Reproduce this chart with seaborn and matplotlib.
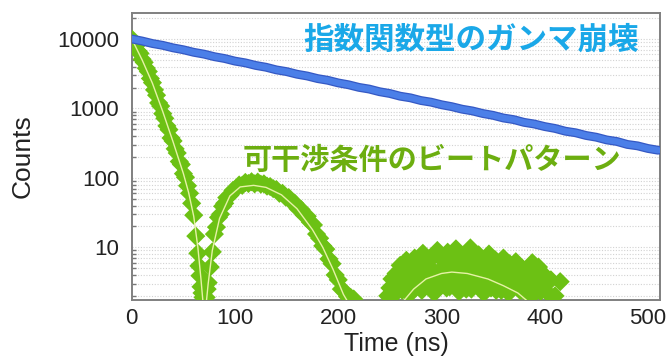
import matplotlib
import numpy as np
import pandas as pd

matplotlib.use("Agg")

import matplotlib.pyplot as plt
import matplotlib.patheffects as pe
from matplotlib.ticker import LogLocator, NullFormatter
import seaborn as sns

# exponential gamma decay (blue band), every 10 ns
blue_t = list(range(0, 520, 10))
blue_counts = [
    10000, 9350, 8600, 8100, 7450, 6990, 6430, 6050, 5560, 5230,
    4800, 4530, 4160, 3920, 3590, 3390, 3110, 2930, 2690, 2540,
    2330, 2190, 2010, 1900, 1740, 1640, 1500, 1420, 1300, 1230,
    1130, 1060, 975, 920, 845, 795, 728, 690, 630, 596,
    548, 515, 470, 446, 408, 385, 352, 334, 303, 289,
    265, 250,
]

# beat pattern data points (green diamonds)
green_t = [
    0, 2, 4, 6, 8, 10, 12, 14, 16, 18, 20, 22, 24, 26, 28, 30, 32, 34, 36, 38,
    40, 42, 44, 46, 48, 50, 52, 54, 56, 58, 60, 62, 64, 65, 66, 67, 68, 69,
    72, 73, 74, 76, 78, 80, 82, 84, 86, 88, 90, 92, 95, 98, 101, 104, 107, 110,
    113, 116, 119, 122, 125, 128, 131, 134, 137, 140, 143, 146, 149, 152, 155,
    158, 161, 164, 167, 170, 173, 176, 179, 182, 185, 188, 191, 194, 197, 200,
    203, 206, 209, 212, 215,
    248, 250, 252, 254, 256, 258, 260, 262, 264, 266, 268, 270, 272, 274, 276,
    278, 280, 282, 284, 286, 288, 290, 292, 294, 296, 298, 300, 302, 304, 306,
    308, 310, 312, 314, 316, 318, 320, 322, 324, 326, 328, 330, 332, 334, 336,
    338, 340, 342, 344, 346, 348, 350, 352, 354, 356, 358, 360, 362, 364, 366,
    368, 370, 372, 374, 376, 378, 380, 382, 384, 386, 388, 390, 392, 394, 396,
    398, 400, 403, 406, 410, 415,
    251, 257, 263, 269, 275, 281, 287, 293, 299, 305, 311, 317, 323, 329, 335,
    341, 347, 353, 359, 365, 371, 377, 383, 389, 395,
]
green_counts = [
    10000, 8800, 8000, 6700, 6200, 5100, 4600, 3800, 3400, 2700, 2350, 1850,
    1550, 1200, 1080, 840, 720, 560, 495, 375, 340, 262, 228, 172, 156, 115,
    102, 77, 60, 43, 29, 14.5, 8.2, 5.4, 3.9, 2.7, 2.2, 1.9,
    1.9, 2.5, 3.1, 5.2, 8.6, 15.5, 19.5, 27, 30, 39, 43, 52, 56, 66, 70, 79,
    78, 86, 83, 88, 82, 87, 81, 82, 76, 75, 70, 68, 60, 60, 53, 52, 45, 43,
    36, 35, 29, 28, 23, 21, 15.5, 13.5, 10.5, 9.4, 6.8, 5.8, 4.0, 3.4, 2.5,
    2.3, 1.95, 1.9, 1.8,
    2.0, 2.6, 3.5, 2.2, 4.2, 3.0, 5.5, 2.4, 4.8, 6.5, 3.3, 5.2, 2.6, 7.0, 4.0,
    5.8, 3.0, 8.2, 4.5, 6.2, 2.8, 5.0, 7.5, 3.6, 9.0, 4.4, 6.8, 3.2, 5.5, 8.5,
    2.7, 6.0, 4.0, 9.5, 5.0, 3.1, 7.2, 4.6, 2.5, 6.4, 9.8, 3.8, 5.6, 2.9, 7.8,
    4.2, 6.0, 3.0, 5.2, 8.0, 2.6, 4.8, 6.6, 3.4, 5.4, 2.4, 7.0, 4.0, 3.0, 5.8,
    2.5, 4.4, 6.2, 3.2, 2.4, 5.0, 3.6, 2.2, 4.6, 3.0, 6.0, 2.6, 3.8, 5.2, 2.3,
    4.2, 3.0, 2.2, 3.4, 2.0, 3.2,
    1.9, 2.3, 3.0, 2.1, 3.6, 2.4, 3.8, 2.2, 3.2, 2.6, 4.0, 2.3, 3.4, 2.5, 3.9,
    2.2, 3.5, 2.4, 3.0, 2.2, 3.3, 2.4, 2.9, 2.1, 2.6,
]

# thin fitted curve through the beat pattern
fit_t = [0, 10, 20, 30, 40, 50, 55, 60, 64, 67, 69, 70.5,
         72, 74, 78, 85, 95, 105, 118, 130, 145, 160, 175, 185, 195, 205, 212, 216,
         240, 262, 273, 285, 300, 310, 325, 345, 360, 374, 385, 395]
fit_counts = [10000, 5000, 2300, 900, 330, 115, 62, 28, 10, 3.5, 1.6, 0.5,
              1.5, 3.0, 9, 26, 55, 74, 78, 73, 57, 36, 18, 10, 4.8, 2.1, 1.4, 0.5,
              0.5, 1.6, 2.5, 3.5, 4.2, 4.4, 4.2, 3.5, 2.8, 2.2, 1.6, 0.5]

ytick_vals = [10, 100, 1000, 10000]
ytick_labels = ["10", "100", "1000", "10000"]
xtick_vals = [0, 100, 200, 300, 400, 500]

title_blue = "指数関数型のガンマ崩壊"
title_green = "可干渉条件のビートパターン"


def main() -> None:
    sns.set_theme(style="white")
    plt.rcParams["font.family"] = ["Liberation Sans", "Noto Sans CJK JP", "DejaVu Sans"]

    fig = plt.figure(figsize=(6.69, 3.6), dpi=100)
    ax = fig.add_axes([0.197, 0.167, 0.79, 0.797])
    ax.set_yscale("log")

    # light dotted grid at every log step
    ax.yaxis.set_minor_locator(LogLocator(base=10, subs=np.arange(2, 10)))
    ax.yaxis.set_minor_formatter(NullFormatter())
    ax.grid(True, axis="y", which="both", linestyle=(0, (1, 1.5)),
            color="#d2d2d2", linewidth=0.8)
    ax.grid(False, axis="x")

    sns.scatterplot(x=green_t, y=green_counts, marker="D", s=95, color="#6cc114",
                    edgecolor="none", linewidth=0, ax=ax, zorder=3)
    sns.lineplot(x=fit_t, y=fit_counts, color="#e6f2a6", linewidth=1.0,
                 ax=ax, zorder=4, sort=False)

    line = sns.lineplot(x=blue_t, y=blue_counts, color="#4b7fe8", linewidth=4.6,
                        ax=ax, zorder=5)
    line.lines[-1].set_path_effects([pe.Stroke(linewidth=6.4, foreground="#3559c4"),
                                     pe.Normal()])

    ax.set_xlim(0, 512)
    ax.set_ylim(1.75, 23700)
    ax.set_xticks(xtick_vals)
    ax.set_yticks(ytick_vals)
    ax.set_yticklabels(ytick_labels)
    ax.tick_params(axis="both", which="major", direction="in", length=5,
                   color="#777777", labelsize=16, labelcolor="#222222")
    ax.tick_params(axis="y", which="major", pad=9)
    ax.tick_params(axis="x", which="major", pad=6)
    ax.tick_params(axis="y", which="minor", direction="in", length=3,
                   color="#777777", left=True)

    for side in ax.spines.values():
        side.set_color("#808080")
        side.set_linewidth(1.4)

    ax.set_xlabel("Time (ns)", fontsize=18, color="#222222", labelpad=2)
    ax.set_ylabel("Counts", fontsize=19, color="#222222", labelpad=16)

    fig.text(0.453, 0.889, title_blue, color="#1aa8e8", fontsize=22,
             fontweight="bold", family=["Noto Sans CJK JP"], va="center", ha="left")
    fig.text(0.363, 0.556, title_green, color="#6cae10", fontsize=21,
             fontweight="bold", family=["Noto Sans CJK JP"], va="center", ha="left")

    fig.savefig("out.png", dpi=100)
    plt.close(fig)


if __name__ == "__main__":
    main()
